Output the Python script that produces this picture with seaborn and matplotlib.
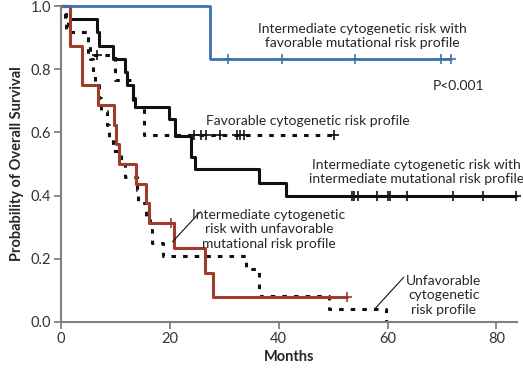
import numpy as np
import matplotlib
matplotlib.use("Agg")
import matplotlib.pyplot as plt
import seaborn as sns

# ---- data ----
blue_t = [0, 27.4, 71.6]
blue_s = [1.0, 0.833, 0.833]
blue_cens = [30.7, 40.6, 54.1, 69.8, 71.6]

red_t = [0, 1.7, 3.8, 6.8, 9.8, 10.1, 10.6, 13.8, 15.6, 16.1, 20.7, 26.5, 27.9, 52.6]
red_s = [1.0, 0.875, 0.75, 0.6875, 0.625, 0.5625, 0.5, 0.4375, 0.375, 0.3125,
         0.234, 0.156, 0.078, 0.078]
red_cens = [20.3, 52.6]

black_t = [0, 1.7, 6.6, 7.0, 9.6, 11.8, 12.2, 13.3, 13.6, 19.8, 21.0, 23.8, 24.7,
           36.3, 41.3, 83.6]
black_s = [1.0, 0.958, 0.917, 0.875, 0.833, 0.792, 0.75, 0.708, 0.681, 0.641,
           0.589, 0.523, 0.483, 0.439, 0.40, 0.40]
black_cens = [53.4, 53.8, 54.6, 58.0, 60.0, 60.4, 63.5, 72.0, 77.6, 83.6]

fav_t = [0, 1.0, 5.0, 9.9, 13.3, 15.3, 50.1]
fav_s = [1.0, 0.917, 0.845, 0.766, 0.681, 0.592, 0.592]
fav_cens = [6.6, 24.4, 25.7, 26.6, 29.3, 32.3, 32.9, 33.6, 50.1]

unf_t = [0, 0.8, 1.3, 5.0, 5.4, 5.8, 6.3, 6.9, 7.4, 8.4, 8.8, 9.6, 11.0, 11.8,
         13.9, 14.2, 15.6, 16.3, 16.7, 18.8, 34.0, 36.3, 49.2, 59.7]
unf_s = [1.0, 0.958, 0.917, 0.875, 0.833, 0.792, 0.75, 0.708, 0.667, 0.625,
         0.583, 0.542, 0.5, 0.458, 0.417, 0.375, 0.333, 0.292, 0.25, 0.208,
         0.167, 0.083, 0.042, 0.0]

x_ticks = [0, 20, 40, 60, 80]
y_ticks = [0.0, 0.2, 0.4, 0.6, 0.8, 1.0]

# ---- style ----
sns.set_style("ticks")
plt.rcParams["font.family"] = ["Lato", "DejaVu Sans"]

BLUE = "#3d73ad"
RED = "#a13b2c"
BLACK = "#111111"
GRAY = "#808080"

fig = plt.figure(figsize=(5.23, 3.69), dpi=100)
ax = fig.add_axes([0.1166, 0.1274, 0.872, 0.8563])


def surv_at(t, s, c):
    t = np.asarray(t)
    s = np.asarray(s)
    idx = np.searchsorted(t, c, side="right") - 1
    return s[idx]


def km(t, s, cens, color, ls="-", lw=2.0):
    sns.lineplot(x=t, y=s, drawstyle="steps-post", color=color, linewidth=lw,
                 linestyle=ls, estimator=None, sort=False, ax=ax, clip_on=False)
    sns.scatterplot(x=cens, y=surv_at(t, s, cens), marker="+", s=55,
                    color=color, linewidth=1.2, ax=ax, clip_on=False, zorder=3)


dot = (0, (1.5, 2.3))
km(unf_t, unf_s, [], BLACK, ls=dot, lw=2.2)
km(fav_t, fav_s, fav_cens, BLACK, ls=dot, lw=2.2)
km(black_t, black_s, black_cens, BLACK, lw=2.2)
km(red_t, red_s, red_cens, RED, lw=2.2)
km(blue_t, blue_s, blue_cens, BLUE, lw=2.0)

ax.set_xlim(0, 83.8)
ax.set_ylim(0, 1.0)
ax.set_xticks(x_ticks)
ax.set_yticks(y_ticks)
ax.set_yticklabels([f"{v:.1f}" for v in y_ticks])
sns.despine(ax=ax)
for sp in ("left", "bottom"):
    ax.spines[sp].set_color(GRAY)
    ax.spines[sp].set_linewidth(1.5)
ax.tick_params(direction="out", length=5, width=1.3, color=GRAY,
               labelsize=10.5, labelcolor="#333333", pad=2)

ax.set_xlabel("Months", fontsize=10.5, fontweight="bold", labelpad=3)
ax.set_ylabel("Probability of Overall Survival", fontsize=10.5,
              fontweight="bold", labelpad=5)

tfs = 10
ax.text(55.3, 0.905, "Intermediate cytogenetic risk with\nfavorable mutational risk profile",
        ha="center", va="center", fontsize=tfs, linespacing=1.25)
ax.text(73.0, 0.747, "P<0.001", ha="center", va="center", fontsize=tfs)
ax.text(45.3, 0.636, "Favorable cytogenetic risk profile",
        ha="center", va="center", fontsize=tfs)
ax.text(65.3, 0.475, "Intermediate cytogenetic risk with\nintermediate mutational risk profile",
        ha="center", va="center", fontsize=tfs, linespacing=1.25)
ax.text(38.2, 0.294, "Intermediate cytogenetic\nrisk with unfavorable\nmutational risk profile",
        ha="center", va="center", fontsize=tfs, linespacing=1.25)
ax.text(70.3, 0.085, "Unfavorable\ncytogenetic\nrisk profile",
        ha="center", va="center", fontsize=tfs, linespacing=1.25)

ax.plot([20.5, 25.6], [0.254, 0.349], color=BLACK, lw=0.8)
ax.plot([57.8, 63.0], [0.044, 0.142], color=BLACK, lw=0.8)

fig.savefig("out.png", dpi=100)
